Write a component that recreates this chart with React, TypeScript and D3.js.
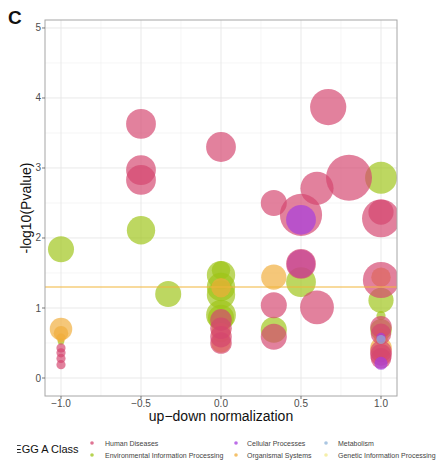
import * as d3 from 'd3';

type Pt = [number, number, number]; // [up-down normalization, -log10(P), gene count]

const classNames = [
  'Human Diseases',
  'Environmental Information Processing',
  'Cellular Processes',
  'Organismal Systems',
  'Metabolism',
  'Genetic Information Processing',
];
const classColors = ['#d4456f', '#9dc416', '#a53ce0', '#f0ac3a', '#8db3d8', '#f2ea8c'];

const humanDiseases: Pt[] = [
  [-0.5, 3.63, 21], [-0.5, 2.97, 21], [-0.5, 2.83, 21], [0, 3.3, 21], [0.67, 3.87, 31],
  [0.6, 2.71, 26], [0.8, 2.86, 50], [0.33, 2.5, 16], [0.5, 2.33, 42], [1, 2.28, 34],
  [1, 2.37, 15], [0.5, 1.63, 21], [0.33, 1.04, 16], [0.6, 1.01, 27], [0.33, 0.59, 16],
  [1, 1.4, 31], [0, 0.83, 11], [0, 0.71, 11], [0, 0.59, 11], [0, 0.5, 11],
  [-1, 0.43, 2], [-1, 0.36, 2], [-1, 0.28, 2], [-1, 0.19, 2], [1, 0.73, 11],
  [1, 0.63, 10], [1, 0.38, 11], [1, 0.33, 11], [1, 0.28, 10],
];
const environmentalInfo: Pt[] = [
  [-1, 1.84, 16], [-0.5, 2.11, 19], [-0.33, 1.2, 16], [0, 1.54, 8], [0, 1.47, 19],
  [0, 1.3, 19], [0, 1.19, 19], [0, 0.9, 21], [0, 0.86, 16], [0.33, 0.69, 16],
  [0.5, 1.37, 21], [1, 2.86, 24], [1, 1.11, 15], [1, 0.89, 2], [1, 0.69, 11], [-1, 0.52, 1],
];
const cellularProcesses: Pt[] = [[0.5, 2.26, 21], [0.5, 1.63, 19], [1, 0.21, 4], [1, 0.58, 2]];
const organismalSystems: Pt[] = [
  [-1, 0.7, 12], [-1, 0.64, 5], [-1, 0.57, 2], [0.33, 1.44, 15], [0, 1.29, 9],
  [0, 0.65, 9], [0, 0.5, 9], [1, 1.44, 9], [1, 0.43, 11], [1, 0.6, 5],
];
const metabolism: Pt[] = [[1, 0.55, 2]];
const geneticInfo: Pt[] = [];

// drawing order (as in the plotted data frame): green, orange, one purple, pink, rest
const layers: [Pt[], number][] = [
  [environmentalInfo, 1],
  [organismalSystems, 3],
  [cellularProcesses.slice(1, 2), 2],
  [humanDiseases, 0],
  [[cellularProcesses[0], ...cellularProcesses.slice(2)], 2],
  [metabolism, 4],
  [geneticInfo, 5],
];

const xTicks = [-1, -0.5, 0, 0.5, 1];
const yTicks = [0, 1, 2, 3, 4, 5];
const threshold = 1.3;

export default function App() {
  const width = 436;
  const height = 463;
  const panel = { left: 45, right: 397, top: 20, bottom: 396 };

  const x = d3.scaleLinear().domain([-1.1, 1.1]).range([panel.left, panel.right]);
  const y = d3.scaleLinear().domain([-0.257, 5.114]).range([panel.bottom, panel.top]);
  const r = d3.scaleSqrt().domain([0, 50]).range([0, 23]);

  const xMinor = d3.range(-1.25, 1.26, 0.5).filter((v) => v > -1.1 && v < 1.1);
  const yMinor = d3.range(0.5, 5.1, 1);

  const legendCols = [
    { dot: 92, text: 105 },
    { dot: 236, text: 247 },
    { dot: 326, text: 338 },
  ];
  const legendRows = [443, 455];
  const legendOrder = [0, 1, 2, 3, 4, 5];

  return (
    <svg
      width={width}
      height={height}
      style={{ position: 'absolute', left: 0, top: 0, fontFamily: 'Liberation Sans, Arial, sans-serif' }}
    >
      <defs>
        <clipPath id="panel-clip">
          <rect x={panel.left} y={panel.top} width={panel.right - panel.left} height={panel.bottom - panel.top} />
        </clipPath>
        <clipPath id="title-clip">
          <rect x={17} y={420} width={100} height={43} />
        </clipPath>
      </defs>
      <rect width={width} height={height} fill="#fff" />

      <text x={8} y={24} fontSize={19} fontWeight="bold" fill="#111">C</text>

      {/* grid */}
      {xMinor.map((v) => (
        <line key={'xm' + v} x1={x(v)} x2={x(v)} y1={panel.top} y2={panel.bottom} stroke="#f0f0f0" strokeWidth={0.6} />
      ))}
      {yMinor.map((v) => (
        <line key={'ym' + v} x1={panel.left} x2={panel.right} y1={y(v)} y2={y(v)} stroke="#f0f0f0" strokeWidth={0.6} />
      ))}
      {xTicks.map((v) => (
        <line key={'xg' + v} x1={x(v)} x2={x(v)} y1={panel.top} y2={panel.bottom} stroke="#e6e6e6" strokeWidth={0.9} />
      ))}
      {yTicks.map((v) => (
        <line key={'yg' + v} x1={panel.left} x2={panel.right} y1={y(v)} y2={y(v)} stroke="#e6e6e6" strokeWidth={0.9} />
      ))}

      {/* bubbles */}
      <g clipPath="url(#panel-clip)">
        {layers.map(([pts, ci], li) =>
          pts.map((d, i) => (
            <circle
              key={li + '-' + i}
              cx={x(d[0])}
              cy={y(d[1])}
              r={r(d[2])}
              fill={classColors[ci]}
              fillOpacity={0.68}
            />
          )),
        )}
        <line x1={panel.left} x2={panel.right} y1={y(threshold)} y2={y(threshold)} stroke="#f2b53a" strokeWidth={1.1} />
      </g>

      <rect
        x={panel.left}
        y={panel.top}
        width={panel.right - panel.left}
        height={panel.bottom - panel.top}
        fill="none"
        stroke="#a6a6a6"
        strokeWidth={1}
      />

      {/* axes */}
      {yTicks.map((v) => (
        <g key={'yt' + v}>
          <line x1={panel.left - 3} x2={panel.left} y1={y(v)} y2={y(v)} stroke="#555" strokeWidth={0.8} />
          <text x={panel.left - 4} y={y(v) + 3.5} fontSize={10} textAnchor="end" fill="#4d4d4d">{v}</text>
        </g>
      ))}
      {xTicks.map((v) => (
        <g key={'xt' + v}>
          <line x1={x(v)} x2={x(v)} y1={panel.bottom} y2={panel.bottom + 3} stroke="#555" strokeWidth={0.8} />
          <text x={x(v)} y={407} fontSize={10} textAnchor="middle" fill="#4d4d4d">
            {d3.format('.1f')(v).replace('-', '\u2212')}
          </text>
        </g>
      ))}
      <text x={(panel.left + panel.right) / 2} y={421} fontSize={14} textAnchor="middle" fill="#111">
        up{'\u2212'}down normalization
      </text>
      <text
        transform={`translate(31,${(panel.top + panel.bottom) / 2}) rotate(-90)`}
        fontSize={14}
        textAnchor="middle"
        fill="#111"
      >
        -log10(Pvalue)
      </text>

      {/* legend */}
      <text x={7} y={453} fontSize={11} fill="#111" clipPath="url(#title-clip)">KEGG A Class</text>
      {legendOrder.map((ci, k) => {
        const col = legendCols[Math.floor(k / 2)];
        const row = legendRows[k % 2];
        return (
          <g key={'lg' + ci}>
            <circle cx={col.dot} cy={row} r={1.8} fill={classColors[ci]} fillOpacity={0.75} />
            <text x={col.text} y={row + 2.5} fontSize={7} fill="#444">{classNames[ci]}</text>
          </g>
        );
      })}
    </svg>
  );
}
